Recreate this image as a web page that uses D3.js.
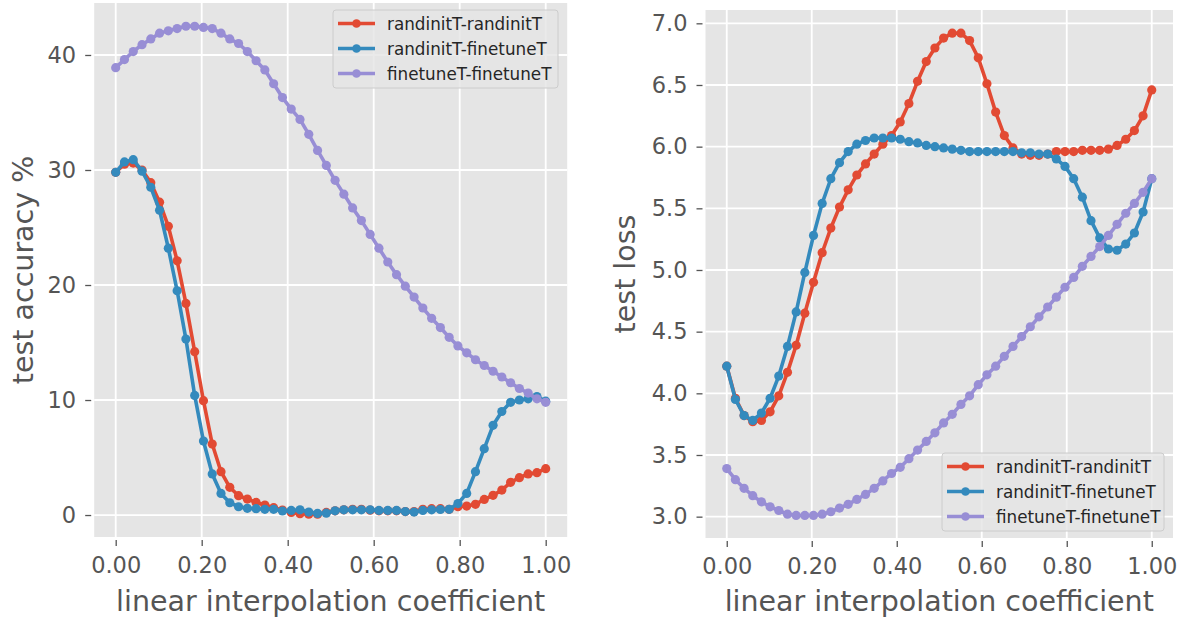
<!DOCTYPE html>
<html>
<head>
<meta charset="utf-8">
<script src="https://cdn.jsdelivr.net/npm/d3@7"></script>
<style>
  html, body { margin: 0; padding: 0; background: #ffffff; }
  svg { display: block; font-family: "DejaVu Sans", sans-serif; }
</style>
</head>
<body>
<svg id="chart" width="1183" height="620"></svg>
<script>
// ---- data ----
const coef = [0.0000,0.0204,0.0408,0.0612,0.0816,0.1020,0.1224,0.1429,0.1633,0.1837,
              0.2041,0.2245,0.2449,0.2653,0.2857,0.3061,0.3265,0.3469,0.3673,0.3878,
              0.4082,0.4286,0.4490,0.4694,0.4898,0.5102,0.5306,0.5510,0.5714,0.5918,
              0.6122,0.6327,0.6531,0.6735,0.6939,0.7143,0.7347,0.7551,0.7755,0.7959,
              0.8163,0.8367,0.8571,0.8776,0.8980,0.9184,0.9388,0.9592,0.9796,1.0000];

const seriesNames = ["randinitT-randinitT", "randinitT-finetuneT", "finetuneT-finetuneT"];
const seriesColors = ["#E24A33", "#348ABD", "#988ED5"];

const accRandRand = [29.8,30.5,30.6,30.0,28.9,27.2,25.1,22.1,18.4,14.2,
                     9.94,6.17,3.77,2.41,1.68,1.39,1.10,0.87,0.64,0.43,
                     0.23,0.12,0.07,0.07,0.23,0.37,0.45,0.50,0.50,0.42,
                     0.37,0.37,0.37,0.30,0.30,0.50,0.55,0.55,0.50,0.72,
                     0.78,0.93,1.36,1.71,2.17,2.84,3.25,3.57,3.68,4.03];
const accRandFine = [29.8,30.7,30.9,29.9,28.5,26.5,23.2,19.5,15.3,10.4,
                     6.43,3.57,1.88,1.07,0.72,0.58,0.55,0.50,0.50,0.35,
                     0.40,0.45,0.26,0.14,0.16,0.37,0.45,0.45,0.45,0.45,
                     0.40,0.40,0.40,0.30,0.26,0.40,0.45,0.48,0.50,1.00,
                     1.88,3.77,5.77,7.80,9.00,9.80,10.0,10.1,10.3,9.9];
const accFineFine = [38.9,39.6,40.3,40.9,41.4,41.9,42.1,42.3,42.5,42.5,
                     42.4,42.3,41.9,41.4,41.0,40.3,39.5,38.7,37.5,36.3,
                     35.3,34.4,33.1,31.7,30.4,29.1,27.9,26.7,25.6,24.4,
                     23.2,22.0,20.9,19.9,18.95,18.0,17.1,16.3,15.45,14.7,
                     14.1,13.5,13.0,12.5,12.0,11.5,11.0,10.6,10.1,9.8];

const lossRandRand = [4.22,3.96,3.82,3.77,3.78,3.85,3.98,4.17,4.39,4.65,
                      4.90,5.14,5.34,5.51,5.65,5.77,5.86,5.94,6.02,6.09,
                      6.20,6.35,6.53,6.69,6.80,6.88,6.92,6.92,6.86,6.72,
                      6.51,6.28,6.09,5.99,5.94,5.93,5.93,5.94,5.96,5.96,
                      5.96,5.97,5.97,5.97,5.98,6.01,6.06,6.13,6.25,6.46];
const lossRandFine = [4.22,3.95,3.82,3.78,3.84,3.96,4.14,4.38,4.66,4.98,
                      5.28,5.54,5.74,5.87,5.96,6.02,6.05,6.07,6.07,6.07,
                      6.06,6.04,6.03,6.01,6.00,5.99,5.98,5.97,5.96,5.96,
                      5.96,5.96,5.96,5.96,5.95,5.95,5.94,5.94,5.90,5.84,
                      5.74,5.59,5.40,5.26,5.17,5.16,5.21,5.30,5.47,5.74];
const lossFineFine = [3.39,3.30,3.23,3.17,3.12,3.08,3.05,3.02,3.01,3.01,
                      3.01,3.02,3.04,3.07,3.10,3.14,3.18,3.23,3.29,3.35,
                      3.40,3.47,3.54,3.61,3.68,3.76,3.83,3.91,3.98,4.07,
                      4.15,4.22,4.30,4.38,4.46,4.54,4.62,4.70,4.78,4.86,
                      4.94,5.03,5.11,5.19,5.28,5.37,5.46,5.54,5.63,5.74];

const xTicks = [0, 0.2, 0.4, 0.6, 0.8, 1.0];
const accTicks = [0, 10, 20, 30, 40];
const lossTicks = [3.0, 3.5, 4.0, 4.5, 5.0, 5.5, 6.0, 6.5, 7.0];

// ---- drawing ----
const svg = d3.select("#chart");
const TXT = "#555555";

function panel(opt) {
  const g = svg.append("g");
  const x = d3.scaleLinear().domain([-0.05, 1.05]).range([opt.left, opt.right]);
  const y = d3.scaleLinear().domain(opt.yDomain).range([opt.bottom, opt.top]);

  g.append("rect")
    .attr("x", opt.left).attr("y", opt.top)
    .attr("width", opt.right - opt.left).attr("height", opt.bottom - opt.top)
    .attr("fill", "#E5E5E5");

  // grid
  g.selectAll(".vg").data(xTicks).enter().append("line")
    .attr("x1", d => x(d)).attr("x2", d => x(d))
    .attr("y1", opt.top).attr("y2", opt.bottom)
    .attr("stroke", "#ffffff").attr("stroke-width", 1.8);
  g.selectAll(".hg").data(opt.yTicks).enter().append("line")
    .attr("y1", d => y(d)).attr("y2", d => y(d))
    .attr("x1", opt.left).attr("x2", opt.right)
    .attr("stroke", "#ffffff").attr("stroke-width", 1.8);

  // x axis
  const xa = d3.axisBottom(x).tickValues(xTicks).tickFormat(d3.format(".2f"))
    .tickSize(6).tickPadding(11);
  const xg = g.append("g").attr("transform", `translate(0,${opt.bottom + 3})`).call(xa);
  xg.select(".domain").remove();
  xg.selectAll("line").attr("stroke", TXT).attr("stroke-width", 1.3);
  xg.selectAll("text").attr("fill", TXT).style("font-size", "22.5px")
    .style("font-family", "DejaVu Sans, sans-serif");

  // y axis
  const ya = d3.axisLeft(y).tickValues(opt.yTicks).tickFormat(opt.yFormat)
    .tickSize(6).tickPadding(9);
  const yg = g.append("g").attr("transform", `translate(${opt.left - 3},0)`).call(ya);
  yg.select(".domain").remove();
  yg.selectAll("line").attr("stroke", TXT).attr("stroke-width", 1.3);
  yg.selectAll("text").attr("fill", TXT).style("font-size", "22.5px")
    .style("font-family", "DejaVu Sans, sans-serif");

  // labels
  g.append("text")
    .attr("x", (opt.left + opt.right) / 2).attr("y", 611)
    .attr("text-anchor", "middle").attr("fill", TXT)
    .style("font-size", "28.5px")
    .text("linear interpolation coefficient");
  g.append("text")
    .attr("transform", `translate(${opt.ylabX},${(opt.top + opt.bottom) / 2}) rotate(-90)`)
    .attr("text-anchor", "middle").attr("fill", TXT)
    .style("font-size", "28.5px")
    .text(opt.ylabel);

  // series
  const line = d3.line().x((d, i) => x(coef[i])).y(d => y(d));
  opt.series.forEach((vals, k) => {
    const sg = g.append("g");
    sg.append("path").datum(vals)
      .attr("d", line).attr("fill", "none")
      .attr("stroke", seriesColors[k]).attr("stroke-width", 3.6)
      .attr("stroke-linejoin", "round");
    sg.selectAll("circle").data(vals).enter().append("circle")
      .attr("cx", (d, i) => x(coef[i])).attr("cy", d => y(d))
      .attr("r", 4.6).attr("fill", seriesColors[k]);
  });

  // legend
  const L = opt.legend;
  const lg = g.append("g");
  lg.append("rect")
    .attr("x", L.x).attr("y", L.y).attr("width", L.w).attr("height", L.h)
    .attr("rx", 3).attr("ry", 3)
    .attr("fill", "#E5E5E5").attr("fill-opacity", 0.8)
    .attr("stroke", "#CCCCCC").attr("stroke-width", 1);
  seriesNames.forEach((name, k) => {
    const cy = L.y + 13.5 + k * 25;
    lg.append("line")
      .attr("x1", L.x + 5).attr("x2", L.x + 42).attr("y1", cy).attr("y2", cy)
      .attr("stroke", seriesColors[k]).attr("stroke-width", 3.6);
    lg.append("circle").attr("cx", L.x + 23.5).attr("cy", cy).attr("r", 4.3)
      .attr("fill", seriesColors[k]);
    lg.append("text").attr("x", L.x + 54).attr("y", cy)
      .attr("dominant-baseline", "central")
      .attr("fill", "#262626").style("font-size", "16.8px")
      .text(name);
  });
}

panel({
  left: 94.2, right: 567.2, top: 3, bottom: 537,
  yDomain: [-1.91, 44.52], yTicks: accTicks, yFormat: d3.format("d"),
  ylabel: "test accuracy %", ylabX: 33,
  series: [accRandRand, accRandFine, accFineFine],
  legend: { x: 333, y: 10, w: 225, h: 78 }
});

panel({
  left: 705.5, right: 1173, top: 10, bottom: 538,
  yDomain: [2.827, 7.108], yTicks: lossTicks, yFormat: d3.format(".1f"),
  ylabel: "test loss", ylabX: 635,
  series: [lossRandRand, lossRandFine, lossFineFine],
  legend: { x: 942, y: 453, w: 222, h: 78 }
});
</script>
</body>
</html>
